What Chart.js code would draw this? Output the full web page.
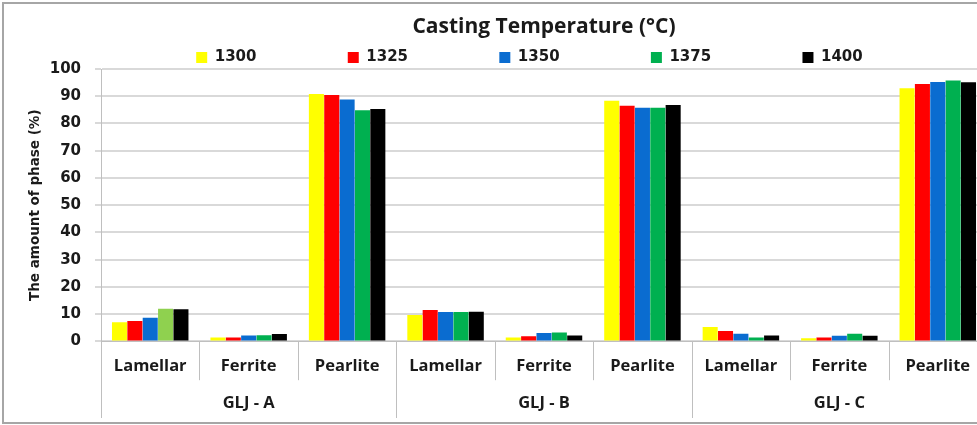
<!DOCTYPE html>
<html>
<head>
<meta charset="utf-8">
<script src="https://cdn.jsdelivr.net/npm/chart.js@4"></script>
<style>
  html, body { margin: 0; padding: 0; background: #fff; overflow: hidden; }
  #frame { position: absolute; left: 2px; top: 2px; width: 1010px; height: 418px; border: 2px solid #a6a6a6; }
  #chart { position: absolute; left: 0; top: 0; }
</style>
</head>
<body>
<div id="frame"></div>
<canvas id="chart" width="990" height="425"></canvas>
<script>
// groups and phases on the two-level x axis
const groups = ['GLJ - A', 'GLJ - B', 'GLJ - C'];
const phases = ['Lamellar', 'Ferrite', 'Pearlite'];
const categories = ['Lamellar', 'Ferrite', 'Pearlite', 'Lamellar', 'Ferrite', 'Pearlite', 'Lamellar', 'Ferrite', 'Pearlite'];

// casting temperatures (legend)
const temps = ['1300', '1325', '1350', '1375', '1400'];

// amount of phase (%) per category, one array per temperature
const t1300 = [7.0, 1.4, 90.8, 9.7, 1.4, 88.3, 5.3, 1.2, 92.9];
const t1325 = [7.5, 1.4, 90.5, 11.5, 1.9, 86.5, 3.8, 1.4, 94.5];
const t1350 = [8.7, 2.2, 88.8, 10.8, 3.1, 85.8, 2.8, 2.1, 95.2];
const t1375 = [12.0, 2.3, 84.9, 10.8, 3.3, 85.8, 1.4, 2.8, 95.8];
const t1400 = [11.8, 2.7, 85.3, 10.9, 2.2, 86.8, 2.2, 2.1, 95.1];

const yTicks = [0, 10, 20, 30, 40, 50, 60, 70, 80, 90, 100];

const colors = ['#ffff00', '#ff0000', '#0a6cd0', '#00b050', '#000000'];

const legendFont = 'bold 15px "DejaVu Sans"';
const measureCtx = document.createElement('canvas').getContext('2d');
measureCtx.font = legendFont;

// pad legend text with trailing spaces so items sit at the same spacing as the original
function padText(text, target) {
    let s = text;
    while (measureCtx.measureText(s + ' ').width <= target) s += ' ';
    while (measureCtx.measureText(s + '\u200A').width <= target) s += '\u200A';
    return s;
}

// draws the separators of the two level category axis
const separators = {
    id: 'separators',
    afterDraw(chart) {
        const x = chart.scales.x, x2 = chart.scales.x2, y = chart.scales.y;
        const ctx = chart.ctx;
        const step = x.width / categories.length;
        ctx.save();
        ctx.strokeStyle = '#bfbfbf';
        ctx.lineWidth = 1;
        for (let i = 0; i <= categories.length; i++) {
            const px = Math.round(x.left + i * step) + 0.5;
            const end = i % phases.length === 0 ? x2.bottom + 3 : x.bottom - 11;
            ctx.beginPath();
            ctx.moveTo(px, y.bottom);
            ctx.lineTo(px, end);
            ctx.stroke();
        }
        ctx.restore();
    }
};

const seriesData = [t1300, t1325, t1350, t1375, t1400];

new Chart(document.getElementById('chart'), {
    type: 'bar',
    data: {
        labels: categories,
        datasets: temps.map((t, i) => ({
            label: t,
            data: seriesData[i],
            backgroundColor: i === 3
                ? (c => c.dataIndex === 0 ? '#8fd14f' : colors[3])
                : colors[i],
            borderWidth: 0,
            categoryPercentage: 0.78,
            barPercentage: 0.98,
            xAxisID: 'x',
            yAxisID: 'y'
        }))
    },
    options: {
        responsive: false,
        animation: false,
        layout: { padding: { top: 0, right: 3, bottom: 10, left: 0 } },
        plugins: {
            title: {
                display: true,
                fullSize: false,
                text: 'Casting Temperature (\u00B0C)',
                color: '#1a1a1a',
                font: { family: '"Open Sans"', size: 21, weight: 'bold', lineHeight: 1.0 },
                padding: { top: 17, bottom: 2 }
            },
            legend: {
                display: true,
                fullSize: false,
                position: 'top',
                maxHeight: 29,
                labels: {
                    boxWidth: 11,
                    boxHeight: 11,
                    padding: 10,
                    color: '#1a1a1a',
                    font: { family: '"DejaVu Sans"', size: 15, weight: 'bold' },
                    generateLabels(chart) {
                        const items = Chart.defaults.plugins.legend.labels.generateLabels(chart);
                        items.forEach((it, i) => {
                            const target = i < items.length - 1 ? 124.5 : 71.5;
                            it.text = padText(it.text, target);
                            it.fillStyle = colors[it.datasetIndex];
                            it.lineWidth = 0;
                        });
                        return items;
                    }
                }
            },
            tooltip: { enabled: false }
        },
        scales: {
            x: {
                type: 'category',
                position: 'bottom',
                offset: true,
                grid: { display: false, drawTicks: false },
                border: { display: true, color: '#bfbfbf', width: 1 },
                ticks: {
                    color: '#1a1a1a',
                    padding: 15,
                    maxRotation: 0,
                    autoSkip: false,
                    font: { family: '"Open Sans"', size: 16.5, weight: 'bold' }
                }
            },
            x2: {
                type: 'category',
                position: 'bottom',
                labels: groups,
                offset: true,
                grid: { display: false, drawTicks: false },
                border: { display: false },
                ticks: {
                    color: '#1a1a1a',
                    padding: 2,
                    maxRotation: 0,
                    font: { family: '"Open Sans"', size: 16.5, weight: 'bold' }
                }
            },
            y: {
                min: 0,
                max: 100,
                afterFit(scale) { scale.width = 101; },
                afterBuildTicks(scale) { scale.ticks = yTicks.map(v => ({ value: v })); },
                grid: { color: '#d9d9d9', lineWidth: 2, tickLength: 6 },
                border: { display: true, color: '#bfbfbf', width: 1 },
                ticks: {
                    color: '#1a1a1a',
                    padding: 14,
                    font: { family: '"DejaVu Sans"', size: 15, weight: 'bold' }
                },
                title: {
                    display: true,
                    text: 'The amount of phase (%)',
                    color: '#1a1a1a',
                    padding: { top: 27, bottom: 0 },
                    font: { family: '"DejaVu Sans"', size: 13.5, weight: 'bold' }
                }
            }
        }
    },
    plugins: [separators]
});
</script>
</body>
</html>
